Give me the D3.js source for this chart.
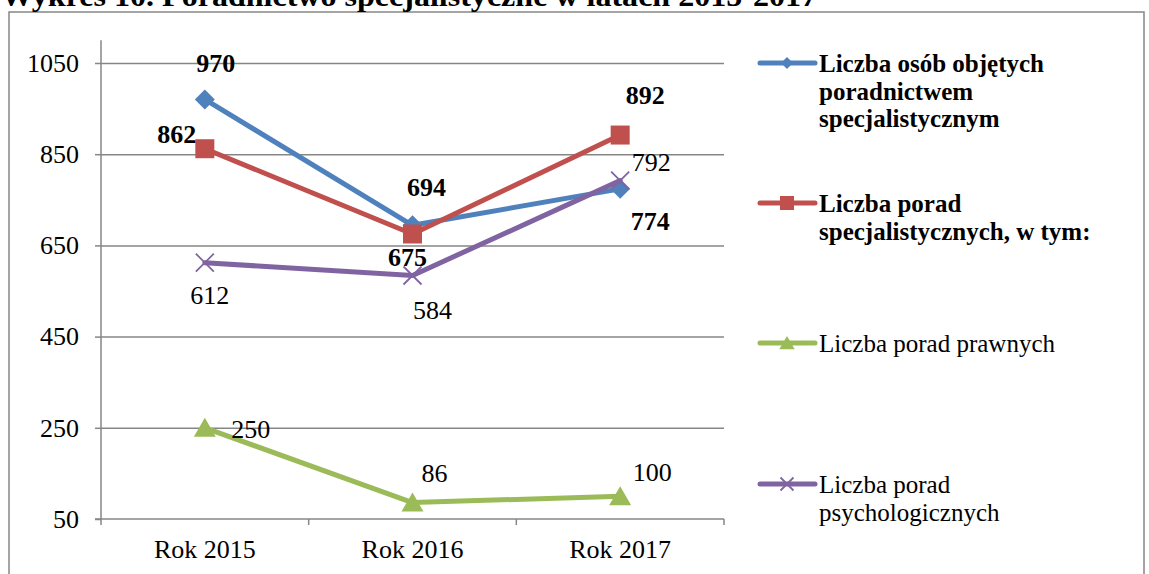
<!DOCTYPE html>
<html>
<head>
<meta charset="utf-8">
<script src="https://cdn.jsdelivr.net/npm/d3@7"></script>
<style>
  html, body { margin: 0; padding: 0; background: #fff; }
  svg { display: block; }
</style>
</head>
<body>
<svg id="chart" width="1149" height="574"></svg>
<script>
// ---------- data ----------
const title = "Wykres 10. Poradnictwo specjalistyczne w latach 2015-2017";
const categories = ["Rok 2015", "Rok 2016", "Rok 2017"];
const yTicks = [50, 250, 450, 650, 850, 1050];
const seriesNames = [
  ["Liczba osób objętych", "poradnictwem", "specjalistycznym"],
  ["Liczba porad", "specjalistycznych, w tym:"],
  ["Liczba porad prawnych"],
  ["Liczba porad", "psychologicznych"]
];
const osobyValues = [970, 694, 774];
const poradyValues = [862, 675, 892];
const prawneValues = [250, 86, 100];
const psychValues = [612, 584, 792];

// ---------- styles / layout (not data) ----------
const colors = ["#4F81BD", "#C0504D", "#9BBB59", "#8064A2"];
const markers = ["diamond", "square", "triangle", "cross"];
const boldLabels = [true, true, false, false];
// label offsets [dx, dy] relative to the point (placement only)
const labelOffsets = [
  [[11, -27], [14, -29], [30, 41]],
  [[-28, -6], [-5, 32], [25, -31]],
  [[46, 10], [22, -21], [32, -15]],
  [[5, 41], [20, 44], [31, -10]]
];
const legendY = [63, 203, 343, 484];

const values = [osobyValues, poradyValues, prawneValues, psychValues];
const font = "'Liberation Serif', 'Times New Roman', serif";
const grid = "#868686";

const svg = d3.select("#chart");

// frame
svg.append("rect").attr("x", 9).attr("y", 12).attr("width", 1135).attr("height", 600)
  .attr("fill", "none").attr("stroke", grid).attr("stroke-width", 1.5);

// title (partly cut off at top)
svg.append("text").text(title)
  .attr("x", 1).attr("y", 6)
  .attr("font-family", font).attr("font-weight", "bold").attr("font-size", 30)
  .attr("textLength", 816).attr("lengthAdjust", "spacingAndGlyphs")
  .attr("fill", "#000");

const left = 101, right = 724;
const y = d3.scaleLinear().domain([50, 1050]).range([519, 63]);
const x = d3.scaleBand().domain(categories).range([left, right]).padding(0);
const cx = c => x(c) + x.bandwidth() / 2;

// gridlines
const gGrid = svg.append("g").attr("transform", `translate(${left},0)`)
  .call(d3.axisLeft(y).tickValues(yTicks.slice(1)).tickSize(-(right - left)).tickFormat(""));
gGrid.select(".domain").remove();
gGrid.selectAll("line").attr("stroke", grid).attr("stroke-width", 1.5);

// y axis
const gy = svg.append("g").attr("transform", `translate(${left},0)`)
  .call(d3.axisLeft(y).tickValues(yTicks).tickSize(6).tickPadding(16).tickFormat(d3.format("d")));
gy.select(".domain").attr("d", `M0,${y(1100)}V${y(50)}`).attr("stroke", grid).attr("stroke-width", 1.5);
gy.selectAll("line").attr("stroke", grid).attr("stroke-width", 1.5);
gy.selectAll("text").attr("font-family", font).attr("font-size", 26).attr("fill", "#000")
  .attr("dy", "0.32em");

// x axis
const gx = svg.append("g").attr("transform", `translate(0,${y(50)})`);
gx.append("line").attr("x1", left - 6).attr("x2", right).attr("y1", 0).attr("y2", 0)
  .attr("stroke", grid).attr("stroke-width", 1.5);
const edges = categories.map(c => x(c)).concat([x(categories[categories.length - 1]) + x.bandwidth()]);
gx.selectAll("line.tick").data(edges).join("line").attr("class", "tick")
  .attr("x1", d => d).attr("x2", d => d).attr("y1", 0).attr("y2", 6)
  .attr("stroke", grid).attr("stroke-width", 1.5);
gx.selectAll("text").data(categories).join("text")
  .attr("x", d => cx(d)).attr("y", 39).attr("text-anchor", "middle")
  .attr("font-family", font).attr("font-size", 26).attr("fill", "#000").text(d => d);

// marker drawing
function drawMarker(g, type, color, s) {
  if (type === "diamond") {
    g.append("path").attr("d", `M0,${-s}L${s},0L0,${s}L${-s},0Z`).attr("fill", color);
  } else if (type === "square") {
    g.append("rect").attr("x", -s).attr("y", -s).attr("width", 2 * s).attr("height", 2 * s).attr("fill", color);
  } else if (type === "triangle") {
    g.append("path").attr("d", `M0,${-s}L${s * 1.1},${s * 0.9}L${-s * 1.1},${s * 0.9}Z`).attr("fill", color);
  } else if (type === "cross") {
    g.append("path").attr("d", `M${-s},${-s}L${s},${s}M${-s},${s}L${s},${-s}`)
      .attr("stroke", color).attr("stroke-width", 1.8).attr("fill", "none");
  }
}
const markerSize = [10, 9.5, 10, 9];
const legendMarkerSize = [6, 7, 7, 6.5];

const line = d3.line().x((d, i) => cx(categories[i])).y(d => y(d));

values.forEach((vals, si) => {
  const g = svg.append("g");
  g.append("path").datum(vals).attr("d", line).attr("fill", "none")
    .attr("stroke", colors[si]).attr("stroke-width", 5).attr("stroke-linejoin", "round")
    .attr("stroke-linecap", "round");
  vals.forEach((v, i) => {
    const m = g.append("g").attr("transform", `translate(${cx(categories[i])},${y(v)})`);
    drawMarker(m, markers[si], colors[si], markerSize[si]);
  });
});

// data labels
values.forEach((vals, si) => {
  svg.append("g").selectAll("text").data(vals).join("text")
    .attr("x", (d, i) => cx(categories[i]) + labelOffsets[si][i][0])
    .attr("y", (d, i) => y(d) + labelOffsets[si][i][1])
    .attr("text-anchor", "middle")
    .attr("font-family", font).attr("font-size", 26)
    .attr("font-weight", boldLabels[si] ? "bold" : "normal")
    .attr("fill", "#000").text(d => d);
});

// legend
seriesNames.forEach((lines, si) => {
  const g = svg.append("g").attr("transform", `translate(0,${legendY[si]})`);
  g.append("line").attr("x1", 760).attr("x2", 815).attr("y1", 0).attr("y2", 0)
    .attr("stroke", colors[si]).attr("stroke-width", 5).attr("stroke-linecap", "round");
  const m = g.append("g").attr("transform", "translate(787,0)");
  drawMarker(m, markers[si], colors[si], legendMarkerSize[si]);
  const t = g.append("text").attr("font-family", font).attr("font-size", 25)
    .attr("font-weight", boldLabels[si] ? "bold" : "normal").attr("fill", "#000");
  lines.forEach((ln, li) => {
    t.append("tspan").attr("x", 819).attr("y", 9 + li * 27.5).text(ln);
  });
});
</script>
</body>
</html>
